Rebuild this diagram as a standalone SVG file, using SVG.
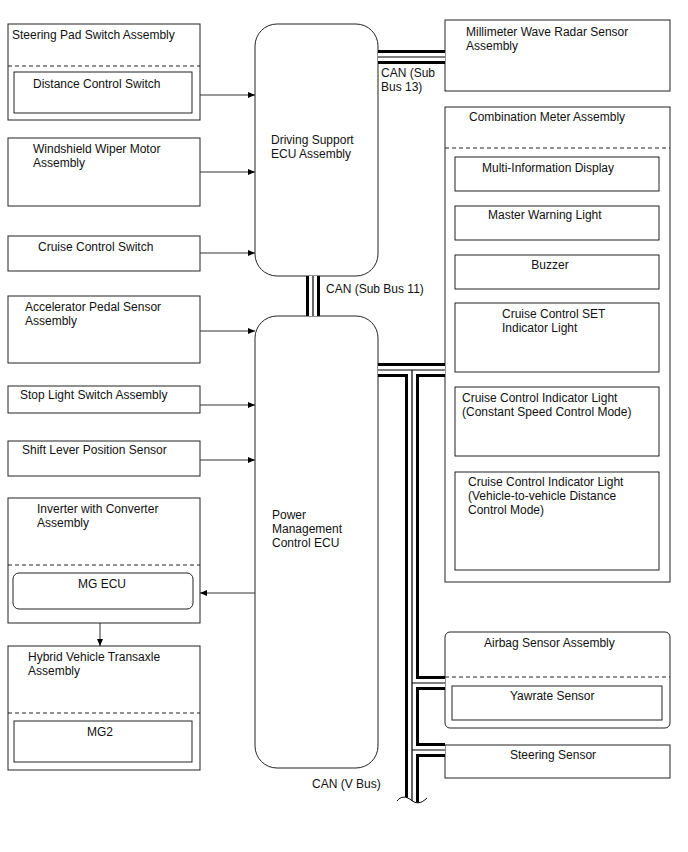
<svg xmlns="http://www.w3.org/2000/svg" width="688" height="852" viewBox="0 0 688 852">
<defs>
<style>
.box{fill:#fff;stroke:#222;stroke-width:1}
.dash{stroke:#222;stroke-width:1;stroke-dasharray:4,3;fill:none}
.t{font-family:"Liberation Sans",Arial,sans-serif;font-size:12px;fill:#111}
.c{text-anchor:middle}
.wire{stroke:#333;stroke-width:1;fill:none}
.bk{stroke:#000;stroke-width:14;fill:none}
.wh{stroke:#fff;stroke-width:8;fill:none}
.ct{stroke:#000;stroke-width:1.2;fill:none}
</style>
<marker id="ah" markerWidth="8" markerHeight="8" refX="7" refY="4" orient="auto" markerUnits="userSpaceOnUse">
<path d="M0,1 L7,4 L0,7 Z" fill="#000"/>
</marker>
</defs>
<rect width="688" height="852" fill="#fff"/>

<g id="steering-pad">
<rect class="box" x="8" y="24" width="192" height="96"/>
<text class="t" x="12" y="39">Steering Pad Switch Assembly</text>
<line class="dash" x1="8" y1="66" x2="200" y2="66"/>
<rect class="box" x="14" y="72" width="178" height="41"/>
<text class="t" x="33" y="88">Distance Control Switch</text>
</g>

<g id="wiper">
<rect class="box" x="8" y="138" width="192" height="68"/>
<text class="t" x="33" y="153">Windshield Wiper Motor</text>
<text class="t" x="33" y="167">Assembly</text>
</g>

<g id="cruise-switch">
<rect class="box" x="8" y="236" width="192" height="35"/>
<text class="t" x="38" y="251">Cruise Control Switch</text>
</g>

<g id="accel">
<rect class="box" x="8" y="296" width="192" height="67"/>
<text class="t" x="25" y="311">Accelerator Pedal Sensor</text>
<text class="t" x="25" y="325">Assembly</text>
</g>

<g id="stop-light">
<rect class="box" x="8" y="386" width="192" height="27"/>
<text class="t" x="20" y="399">Stop Light Switch Assembly</text>
</g>

<g id="shift-lever">
<rect class="box" x="8" y="441" width="192" height="35"/>
<text class="t" x="22" y="454">Shift Lever Position Sensor</text>
</g>

<g id="inverter">
<rect class="box" x="8" y="498" width="192" height="125"/>
<text class="t" x="37" y="513">Inverter with Converter</text>
<text class="t" x="37" y="527">Assembly</text>
<line class="dash" x1="8" y1="565" x2="200" y2="565"/>
<rect class="box" x="13" y="573" width="180" height="36" rx="6"/>
<text class="t c" x="102" y="588">MG ECU</text>
</g>

<g id="transaxle">
<rect class="box" x="8" y="646" width="192" height="124"/>
<text class="t" x="28" y="661">Hybrid Vehicle Transaxle</text>
<text class="t" x="28" y="675">Assembly</text>
<line class="dash" x1="8" y1="713" x2="200" y2="713"/>
<rect class="box" x="14" y="721" width="178" height="41"/>
<text class="t c" x="100" y="736">MG2</text>
</g>

<g id="driving-support-ecu">
<rect class="box" x="255" y="24" width="123" height="252" rx="22"/>
<text class="t" x="271" y="144">Driving Support</text>
<text class="t" x="271" y="158">ECU Assembly</text>
</g>

<g id="pm-ecu">
<rect class="box" x="255" y="316" width="123" height="452" rx="22"/>
<text class="t" x="272" y="519">Power</text>
<text class="t" x="272" y="533">Management</text>
<text class="t" x="272" y="547">Control ECU</text>
</g>

<g id="radar">
<rect class="box" x="445" y="20" width="225" height="71"/>
<text class="t" x="466" y="36">Millimeter Wave Radar Sensor</text>
<text class="t" x="466" y="50">Assembly</text>
</g>

<g id="combination-meter">
<rect class="box" x="445" y="107" width="225" height="475"/>
<text class="t" x="469" y="121">Combination Meter Assembly</text>
<line class="dash" x1="445" y1="148" x2="670" y2="148"/>
<rect class="box" x="455" y="157" width="204" height="34"/>
<text class="t" x="482" y="172">Multi-Information Display</text>
<rect class="box" x="455" y="206" width="204" height="34"/>
<text class="t" x="488" y="219">Master Warning Light</text>
<rect class="box" x="455" y="255" width="204" height="34"/>
<text class="t c" x="550" y="269">Buzzer</text>
<rect class="box" x="455" y="303" width="204" height="69"/>
<text class="t" x="502" y="318">Cruise Control SET</text>
<text class="t" x="502" y="332">Indicator Light</text>
<rect class="box" x="455" y="387" width="204" height="69"/>
<text class="t" x="462" y="402">Cruise Control Indicator Light</text>
<text class="t" x="462" y="416">(Constant Speed Control Mode)</text>
<rect class="box" x="455" y="472" width="204" height="98"/>
<text class="t" x="468" y="486">Cruise Control Indicator Light</text>
<text class="t" x="468" y="500">(Vehicle-to-vehicle Distance</text>
<text class="t" x="468" y="514">Control Mode)</text>
</g>

<g id="airbag">
<rect class="box" x="445" y="632" width="225" height="96" rx="5"/>
<text class="t" x="484" y="647">Airbag Sensor Assembly</text>
<line class="dash" x1="445" y1="677" x2="670" y2="677"/>
<rect class="box" x="452" y="686" width="210" height="34"/>
<text class="t" x="510" y="700">Yawrate Sensor</text>
</g>

<g id="steering-sensor">
<rect class="box" x="445" y="745" width="225" height="33"/>
<text class="t" x="510" y="759">Steering Sensor</text>
</g>

<g id="connectors">
<line class="wire" x1="200" y1="95" x2="255" y2="95" marker-end="url(#ah)"/>
<line class="wire" x1="200" y1="172" x2="255" y2="172" marker-end="url(#ah)"/>
<line class="wire" x1="200" y1="253" x2="255" y2="253" marker-end="url(#ah)"/>
<line class="wire" x1="200" y1="331" x2="255" y2="331" marker-end="url(#ah)"/>
<line class="wire" x1="200" y1="405" x2="255" y2="405" marker-end="url(#ah)"/>
<line class="wire" x1="200" y1="460" x2="255" y2="460" marker-end="url(#ah)"/>
<line class="wire" x1="255" y1="593" x2="200" y2="593" marker-end="url(#ah)"/>
<line class="wire" x1="100" y1="623" x2="100" y2="646" marker-end="url(#ah)"/>

<g id="can-sub-bus-13">
<line class="bk" x1="378" y1="57" x2="445" y2="57"/>
<line class="wh" x1="378" y1="57" x2="445" y2="57"/>
<line class="ct" x1="378" y1="57" x2="445" y2="57"/>
</g>
<g id="can-sub-bus-11">
<line class="bk" x1="313" y1="276" x2="313" y2="316"/>
<line class="wh" x1="313" y1="276" x2="313" y2="316"/>
<line class="ct" x1="313" y1="276" x2="313" y2="316"/>
</g>
<g id="can-v-bus">
<path class="bk" d="M378,370 H445 M412,370 V808 M412,683 H445 M412,750 H445"/>
<path class="wh" d="M378,370 H445 M412,370 V808 M412,683 H445 M412,750 H445"/>
<path class="ct" d="M378,370 H445 M412,370 V808 M412,683 H445 M412,750 H445"/>
<path d="M397,801 C401,796 406,796 411,800 C416,804 421,804 427,798 L427,812 L397,812 Z" fill="#fff" stroke="none"/>
<path d="M397,801 C401,796 406,796 411,800 C416,804 421,804 427,798" fill="none" stroke="#000" stroke-width="1"/>
</g>
<text class="t" x="381" y="77">CAN (Sub</text>
<text class="t" x="381" y="91">Bus 13)</text>
<text class="t" x="326" y="293">CAN (Sub Bus 11)</text>
<text class="t" x="312" y="788">CAN (V Bus)</text>
</g>
</svg>
